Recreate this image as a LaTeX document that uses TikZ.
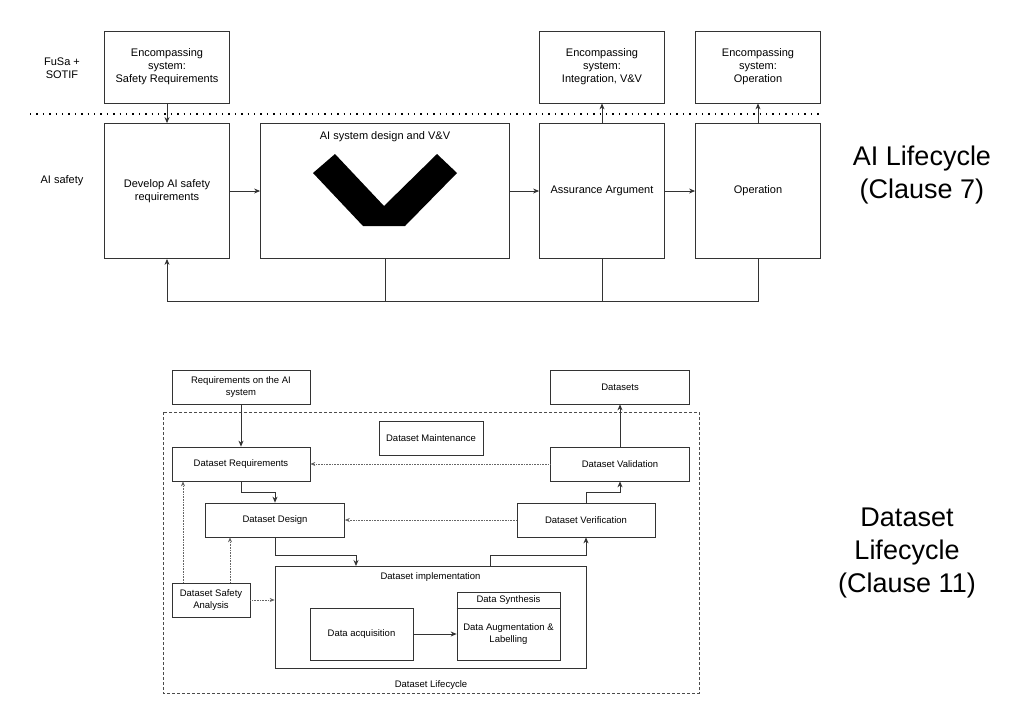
\documentclass[tikz,border=0pt]{standalone}
\usepackage{fontspec}
\setmainfont{Liberation Sans}
\usetikzlibrary{arrows.meta,positioning}
\begin{document}
\begin{tikzpicture}[x=1pt,y=-1pt,
    box/.style={draw=black!80,line width=0.8pt,inner sep=1pt,align=center,font=\fontsize{11}{13}\selectfont},
    sbox/.style={draw=black!80,line width=0.7pt,inner sep=1pt,align=center,font=\fontsize{9.5}{12}\selectfont},
    flow/.style={draw=black!80,line width=0.8pt,-{Stealth[length=6pt,width=5pt]}},
    hint/.style={draw=black!60,line width=0.6pt,densely dotted,-{Stealth[length=5pt,width=4pt]}},
    big/.style={font=\fontsize{27}{33}\selectfont,align=center}]
    \useasboundingbox (0,0) rectangle (1024,723);
    % top part
    \node[align=center,font=\fontsize{11}{13}\selectfont] (fusa) at (62,68) {FuSa +\\SOTIF};
    \node[align=center,font=\fontsize{11}{13}\selectfont] (aisafe) at (62,181) {AI safety};
    \node[box,minimum width=125,minimum height=72] (enca) at (167,67) {Encompassing\\system:\\Safety Requirements};
    \node[box,minimum width=125,minimum height=72] (encb) at (602,67) {Encompassing\\system:\\Integration, V\&V};
    \node[box,minimum width=125,minimum height=72] (encc) at (758,67) {Encompassing\\system:\\Operation};
    \draw[line width=1.4pt,dash pattern=on 1.4pt off 5pt] (30,114) -- (820,114);
    \node[box,minimum width=125,minimum height=135] (dev) at (167,191) {Develop AI safety\\requirements};
    \node[box,minimum width=249,minimum height=135] (vv) at (385,191) {};
    \node[font=\fontsize{11}{13}\selectfont] (vvlbl) at (385,137) {AI system design and V\&V};
    \fill (313,173) -- (363,226) -- (405,226) -- (457,173) -- (437,154) -- (384,206) -- (335,154) -- cycle;
    \node[box,minimum width=125,minimum height=135] (assure) at (602,191) {Assurance Argument};
    \node[box,minimum width=125,minimum height=135] (oper) at (758,191) {Operation};
    \draw[flow] (enca) -- (dev);
    \draw[flow] (assure) -- (encb);
    \draw[flow] (oper) -- (encc);
    \draw[flow] (dev) -- (vv);
    \draw[flow] (vv) -- (assure);
    \draw[flow] (assure) -- (oper);
    \coordinate (back) at (167,301);
    \draw[flow] (oper.south) |- (back) -- (dev.south);
    \draw[draw=black!80,line width=0.8pt] (vv.south) -- (vv.south |- back);
    \draw[draw=black!80,line width=0.8pt] (assure.south) -- (assure.south |- back);
    \node[big] (ailc) at (922,175) {AI Lifecycle\\(Clause 7)};
    % bottom part
    \draw[draw=black!70,line width=0.6pt,densely dashed] (163,412) rectangle (699,693);
    \node[sbox,minimum width=138,minimum height=34] (reqai) at (241,387) {Requirements on the AI\\system};
    \node[sbox,minimum width=139,minimum height=34] (dsets) at (620,387) {Datasets};
    \node[sbox,minimum width=104,minimum height=34] (maint) at (431,438) {Dataset Maintenance};
    \node[sbox,minimum width=138,minimum height=34] (dreq) at (241,464) {Dataset Requirements};
    \node[sbox,minimum width=139,minimum height=34] (dval) at (620,464) {Dataset Validation};
    \node[sbox,minimum width=139,minimum height=34] (ddes) at (275,520) {Dataset Design};
    \node[sbox,minimum width=138,minimum height=34] (dver) at (586,520) {Dataset Verification};
    \node[sbox,minimum width=311,minimum height=102] (impl) at (430.5,617) {};
    \node[font=\fontsize{9.5}{12}\selectfont] (impllbl) at (430.5,577) {Dataset implementation};
    \node[sbox,minimum width=78,minimum height=34] (dsa) at (211,600) {Dataset Safety\\Analysis};
    \node[sbox,minimum width=103,minimum height=52] (dacq) at (361.5,634) {Data acquisition};
    \node[sbox,minimum width=103,minimum height=68] (dsyn) at (508.5,626) {};
    \draw[draw=black!80,line width=0.7pt] (dsyn.west |- 0,608) -- (dsyn.east |- 0,608);
    \node[font=\fontsize{9.5}{12}\selectfont] (synlbl) at (508.5,600) {Data Synthesis};
    \node[font=\fontsize{9.5}{12}\selectfont,align=center] (auglbl) at (508.5,634) {Data Augmentation \&\\Labelling};
    \node[font=\fontsize{9.5}{12}\selectfont] (lclbl) at (431,685) {Dataset Lifecycle};
    \draw[flow] (reqai) -- (dreq);
    \draw[flow] (dreq.south) |- (ddes.north |- 0,492) -- (ddes.north);
    \draw[flow] (ddes.south) |- (356,555) -- (356,566);
    \draw[flow] (490,566) |- (dver.south |- 0,555) -- (dver.south);
    \draw[flow] (dver.north) |- (dval.south |- 0,492) -- (dval.south);
    \draw[flow] (dval) -- (dsets);
    \draw[flow] (dacq) -- (dsyn.west |- dacq);
    \draw[hint] (dval) -- (dreq);
    \draw[hint] (dver) -- (ddes);
    \draw[hint] (dsa.north -| 183,0) -- (dreq.south -| 183,0);
    \draw[hint] (dsa.north -| 230,0) -- (ddes.south -| 230,0);
    \draw[hint] (dsa.east) -- (impl.west |- dsa.east);
    \node[big] (dslc) at (907,553) {Dataset\\Lifecycle\\(Clause 11)};
\end{tikzpicture}
\end{document}
